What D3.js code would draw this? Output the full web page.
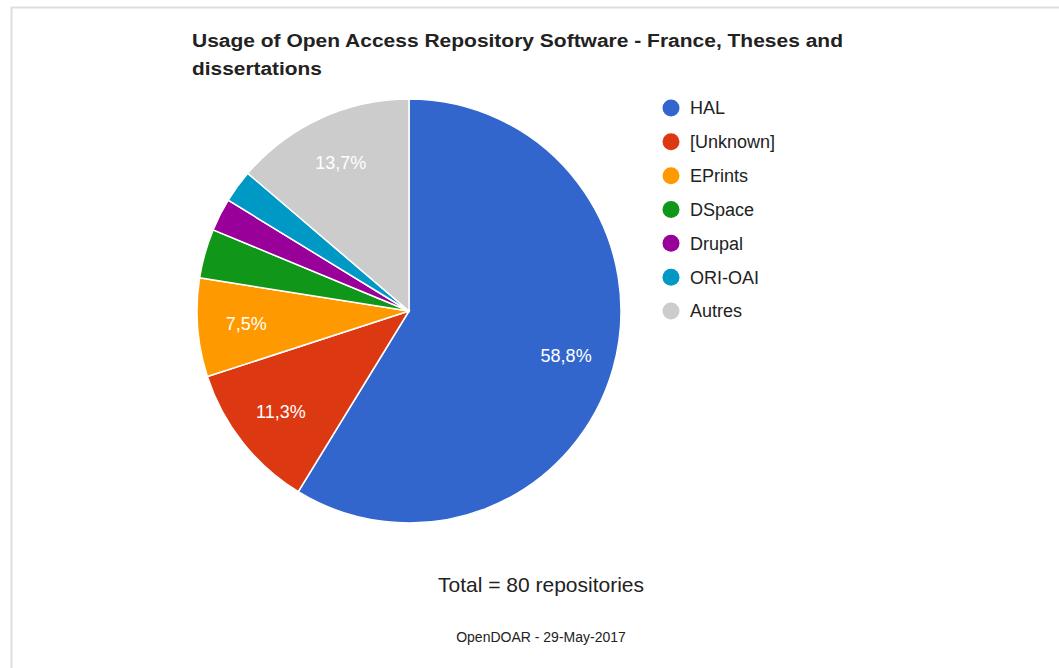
<!DOCTYPE html>
<html><head><meta charset="utf-8">
<script src="https://cdn.jsdelivr.net/npm/d3@7"></script>
<style>body{margin:0;background:#fff;}svg{display:block;}</style>
</head><body>
<svg id="c" width="1059" height="668"></svg>
<script>
const categories = ["HAL","[Unknown]","EPrints","DSpace","Drupal","ORI-OAI","Autres"];
const counts = [47, 9, 6, 3, 2, 2, 11];
const sliceLabels = ["58,8%","11,3%","7,5%","","","","13,7%"];
const colors = ["#3366cc","#dc3912","#ff9900","#109618","#990099","#0099c6","#cccccc"];
const titleLines = ["Usage of Open Access Repository Software - France, Theses and","dissertations"];
const totalLabel = "Total = 80 repositories";
const sourceLabel = "OpenDOAR - 29-May-2017";

const svg = d3.select("#c");
svg.append("line").attr("x1",11).attr("x2",1059).attr("y1",7.5).attr("y2",7.5).attr("stroke","#ddd").attr("stroke-width",2);
svg.append("line").attr("x1",11.5).attr("x2",11.5).attr("y1",7).attr("y2",668).attr("stroke","#ddd").attr("stroke-width",2);

const tt = svg.append("g").attr("font-family","'Liberation Sans', Arial, sans-serif").attr("font-weight","bold").attr("font-size",18).attr("fill","#222");
tt.append("text").attr("x",192).attr("y",47).attr("textLength",651).attr("lengthAdjust","spacingAndGlyphs").text(titleLines[0]);
tt.append("text").attr("x",192).attr("y",75).attr("textLength",130).attr("lengthAdjust","spacingAndGlyphs").text(titleLines[1]);

const cx = 409, cy = 311, r = 212;
const pie = d3.pie().sort(null).value(d=>d)(counts);
const arc = d3.arc().innerRadius(0).outerRadius(r);
const g = svg.append("g").attr("transform",`translate(${cx},${cy})`);
g.selectAll("path").data(pie).join("path").attr("d",arc)
  .attr("fill",(d,i)=>colors[i]).attr("stroke","#fff").attr("stroke-width",1.5);

const labArc = d3.arc().innerRadius(r*0.77).outerRadius(r*0.77);
g.selectAll("text").data(pie).join("text")
  .attr("transform",d=>{const c=labArc.centroid(d);return `translate(${c[0]},${c[1]})`;})
  .attr("text-anchor","middle").attr("dy","0.35em")
  .attr("font-family","'Liberation Sans', Arial, sans-serif").attr("font-size",18).attr("fill","#fff")
  .text((d,i)=>sliceLabels[i]);

const lg = svg.append("g").attr("font-family","'Liberation Sans', Arial, sans-serif").attr("font-size",18).attr("fill","#222");
const ly = d3.scaleLinear().domain([0,6]).range([108,311]);
categories.forEach((c,i)=>{
  lg.append("circle").attr("cx",671).attr("cy",ly(i)).attr("r",8.5).attr("fill",colors[i]);
  lg.append("text").attr("x",690).attr("y",ly(i)).attr("dy","0.36em").text(c);
});

svg.append("text").attr("x",541).attr("y",592).attr("text-anchor","middle")
  .attr("font-family","'Liberation Sans', Arial, sans-serif").attr("font-size",21).attr("fill","#222").text(totalLabel);
svg.append("text").attr("x",541).attr("y",642).attr("text-anchor","middle")
  .attr("font-family","'Liberation Sans', Arial, sans-serif").attr("font-size",14).attr("fill","#222").text(sourceLabel);
</script>
</body></html>
